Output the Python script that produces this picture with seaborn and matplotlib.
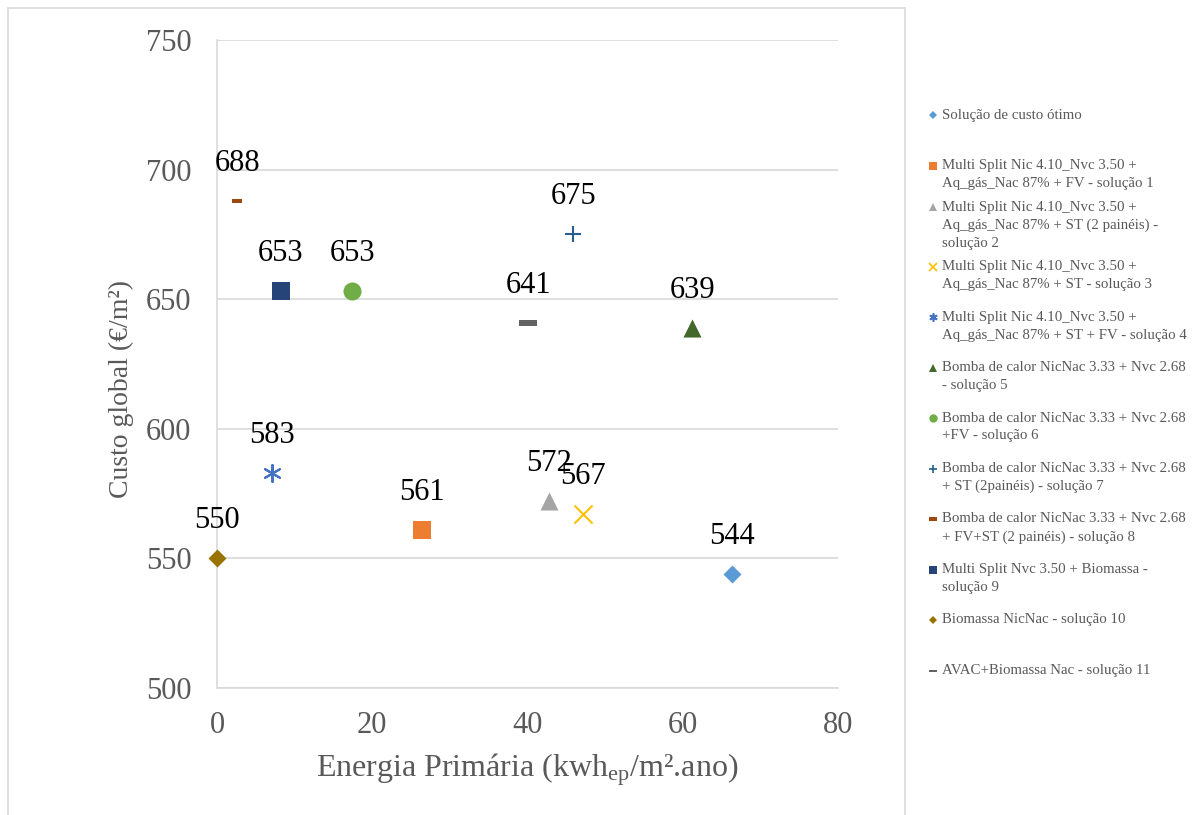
import matplotlib
matplotlib.use("Agg")
import matplotlib.pyplot as plt
from matplotlib.lines import Line2D
from matplotlib.patches import Rectangle
import seaborn as sns
import pandas as pd

# Primary energy (kWh_ep/m².ano) and global cost (€/m²) for each solution
labels = [
    "Solução de custo ótimo",
    "Multi Split Nic 4.10_Nvc 3.50 +\nAq_gás_Nac 87% + FV - solução 1",
    "Multi Split Nic 4.10_Nvc 3.50 +\nAq_gás_Nac 87% + ST (2 painéis) -\nsolução 2",
    "Multi Split Nic 4.10_Nvc 3.50 +\nAq_gás_Nac 87% + ST - solução 3",
    "Multi Split Nic 4.10_Nvc 3.50 +\nAq_gás_Nac 87% + ST + FV - solução 4",
    "Bomba de calor NicNac 3.33 + Nvc 2.68\n- solução 5",
    "Bomba de calor NicNac 3.33 + Nvc 2.68\n+FV - solução 6",
    "Bomba de calor NicNac 3.33 + Nvc 2.68\n+ ST (2painéis) - solução 7",
    "Bomba de calor NicNac 3.33 + Nvc 2.68\n+ FV+ST (2 painéis) - solução 8",
    "Multi Split Nvc 3.50 + Biomassa -\nsolução 9",
    "Biomassa NicNac - solução 10",
    "AVAC+Biomassa Nac - solução 11",
]
energia = [66.4, 26.4, 42.8, 47.2, 7.1, 61.2, 17.4, 45.9, 2.6, 8.2, 0.0, 40.1]
custo = [544, 561, 572, 567, 583, 639, 653, 675, 688, 653, 550, 641]

colors = ["#5B9BD5", "#ED7D31", "#A5A5A5", "#FFC000", "#4472C4", "#43682B",
          "#70AD47", "#255E91", "#9E480E", "#264478", "#997300", "#636363"]

dash_small = [(-1, -0.47), (1, -0.47), (1, 0.47), (-1, 0.47), (-1, -0.47)]
dash_wide = [(-1, -0.33), (1, -0.33), (1, 0.33), (-1, 0.33), (-1, -0.33)]
markers = ["D", "s", "^", "x", (6, 2, 0), "^", "o", "+", dash_small, "s", "D", dash_wide]
sizes = [84, 169, 169, 169, 150, 169, 169, 132, 52, 169, 84, 169]
line_art = {3, 4, 7}

df = pd.DataFrame({"solucao": labels, "energia": energia, "custo": custo})

sns.set_style("white")
plt.rcParams["font.family"] = ["Liberation Serif", "DejaVu Serif"]
plt.rcParams["mathtext.fontset"] = "custom"
plt.rcParams["mathtext.rm"] = "Liberation Serif"
plt.rcParams["mathtext.it"] = "Liberation Serif:italic"

W, H = 1196, 815
fig = plt.figure(figsize=(W / 100, H / 100), dpi=100)
ax = fig.add_axes([217 / W, 1 - 688 / H, (838 - 217) / W, (688 - 40) / H])

grey_line = "#D9D9D9"
text_grey = "#595959"

for i, row in df.iterrows():
    kw = dict(marker=markers[i], s=sizes[i], color=colors[i], ax=ax,
              legend=False, zorder=3, clip_on=False)
    if i in line_art:
        kw.update(linewidth=1.5)
    else:
        kw.update(linewidth=0, edgecolor=colors[i])
    sns.scatterplot(x=[row.energia], y=[row.custo], **kw)
    ax.annotate(f"{row.custo:.0f}", (row.energia, row.custo), xytext=(0, 27),
                textcoords="offset points", ha="center", va="center",
                fontsize=22, color="black", zorder=4)

ax.set_xlim(0, 80)
ax.set_ylim(500, 750)
ax.set_xticks(range(0, 81, 20))
ax.set_yticks(range(500, 751, 50))
ax.grid(axis="y", color=grey_line, linewidth=1.2)
ax.grid(axis="x", visible=False)
ax.set_axisbelow(True)
for side in ("top", "right"):
    ax.spines[side].set_visible(False)
for side in ("left", "bottom"):
    ax.spines[side].set_color(grey_line)
    ax.spines[side].set_linewidth(1.2)
ax.tick_params(axis="both", length=6.5, width=1.2, color=grey_line,
               labelcolor=text_grey, labelsize=22, direction="out")
ax.tick_params(axis="y", pad=12)
ax.tick_params(axis="x", pad=10)
ax.set_xlabel(r"Energia Primária (kwh$_{\mathrm{ep}}$/m².ano)", fontsize=23,
              color=text_grey, labelpad=8)
ax.set_ylabel("Custo global (€/m²)", fontsize=20, color=text_grey)
ax.yaxis.set_label_coords(-0.134, 0.462)

# Chart-area frame
fig.add_artist(Rectangle((8 / W, -0.05), (905 - 8) / W, 1.05 - 8 / H,
                         transform=fig.transFigure, fill=False,
                         edgecolor=grey_line, linewidth=1.2))

# Legend placed to the right of the chart area, one slot per entry
legend_top = 115
slot = 50.5
line_h = 18
for i, lab in enumerate(labels):
    parts = lab.split("\n")
    yc = legend_top + i * slot - max(0, len(parts) - 2) * 9
    fig.add_artist(Line2D([933 / W], [1 - yc / H], transform=fig.transFigure,
                          marker=markers[i], markersize=6 if markers[i] != "D" else 4.5,
                          color=colors[i], linestyle="none",
                          markeredgewidth=1.2 if i in line_art else 0))
    for j, part in enumerate(parts):
        fig.text(942 / W, 1 - (yc + j * line_h) / H, part, fontsize=10.7,
                 color=text_grey, ha="left", va="center")

fig.savefig("out.png", dpi=100)
